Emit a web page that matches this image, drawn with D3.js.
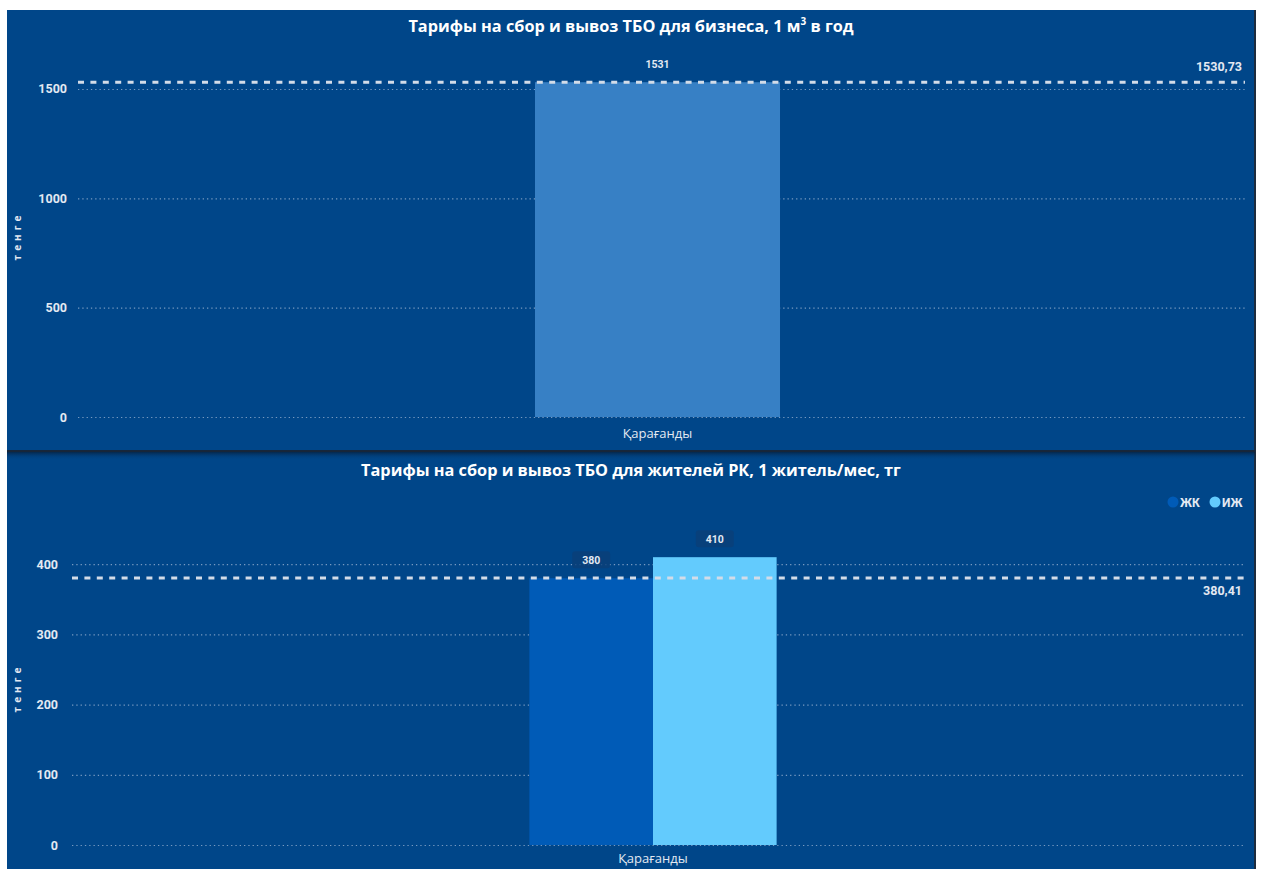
<!DOCTYPE html>
<html lang="ru">
<head>
<meta charset="UTF-8">
<title>Тарифы ТБО</title>
<style>
  * { margin: 0; padding: 0; box-sizing: border-box; }
  body { background: #fff; width: 1263px; height: 869px; overflow: hidden; font-family: 'Open Sans', 'DejaVu Sans', sans-serif; }
  svg { display: block; }
</style>
</head>
<body>
<svg width="1263" height="869"></svg>
<script src="https://cdn.jsdelivr.net/npm/d3@7/dist/d3.min.js"></script>
<script>
// ---- data ----
const regions = ['Қарағанды'];
const businessValues = [1531];
const businessAvg = 1530.73;
const businessTicks = [0, 500, 1000, 1500];

const residentSeries = ['ЖК', 'ИЖ'];
const residentValues = [380, 410];
const residentAvg = 380.41;
const residentTicks = [0, 100, 200, 300, 400];

const seriesColors = ['#005bb7', '#63cbfd'];
const panelColor = '#004689';
const textColor = '#e3e9f2';
const comma = v => d3.format('.2f')(v).replace('.', ',');

const svg = d3.select('svg');

// Panels
svg.append('rect').attr('x', 7).attr('y', 10).attr('width', 1248).attr('height', 859).attr('fill', panelColor);
svg.append('rect').attr('x', 1254).attr('y', 10).attr('width', 2).attr('height', 859).attr('fill', '#1d2b3d');

const defs = svg.append('defs');
const shade = defs.append('linearGradient').attr('id', 'shade').attr('x1', 0).attr('y1', 0).attr('x2', 0).attr('y2', 1);
shade.append('stop').attr('offset', '0%').attr('stop-color', '#07203d').attr('stop-opacity', 0.8);
shade.append('stop').attr('offset', '100%').attr('stop-color', panelColor).attr('stop-opacity', 0);
svg.append('rect').attr('x', 7).attr('y', 450).attr('width', 1248).attr('height', 2).attr('fill', '#17263a');
svg.append('rect').attr('x', 7).attr('y', 452).attr('width', 1248).attr('height', 8).attr('fill', 'url(#shade)');

function drawChart(cfg) {
  const g = svg.append('g');
  const y = d3.scaleLinear().domain(cfg.domain).range(cfg.yRange);
  const x = d3.scaleBand().domain(regions).range(cfg.xRange).paddingInner(0).paddingOuter(cfg.outer);

  // title
  const title = g.append('text')
    .attr('x', 631).attr('y', cfg.titleY)
    .attr('text-anchor', 'middle')
    .attr('fill', '#fff').attr('font-size', 16.3).attr('font-weight', 700)
    .text(cfg.title);
  if (cfg.titleSup) {
    title.append('tspan').attr('dy', -7).attr('font-size', 10).text(cfg.titleSup);
    title.append('tspan').attr('dy', 7).text(cfg.titleTail);
  }

  // grid
  const yAxis = d3.axisLeft(y).tickValues(cfg.ticks).tickFormat(d3.format('d'))
    .tickSize(-(cfg.gridX[1] - cfg.gridX[0])).tickPadding(cfg.gridX[0] - cfg.labelX);
  const ax = g.append('g').attr('transform', `translate(${cfg.gridX[0]},0)`).call(yAxis);
  ax.select('.domain').remove();
  ax.selectAll('.tick line')
    .attr('stroke', '#a9bdd8').attr('stroke-opacity', 0.7)
    .attr('stroke-width', 1.2).attr('stroke-dasharray', '1.3 3');
  ax.selectAll('.tick text')
    .attr('fill', textColor).attr('font-size', 12.5).attr('font-weight', 700)
    .attr('font-family', 'Roboto, sans-serif');

  // axis title
  g.append('text')
    .attr('transform', `translate(21,${cfg.axisTitleY}) rotate(-90)`)
    .attr('text-anchor', 'middle')
    .attr('fill', textColor).attr('font-size', 10).attr('font-weight', 700)
    .attr('letter-spacing', 4)
    .text('тенге');

  // bars
  const sub = d3.scaleBand().domain(cfg.series).range([0, x.bandwidth()]);
  const bars = g.append('g');
  cfg.values.forEach((v, i) => {
    const x0 = x(regions[0]) + sub(cfg.series[i]);
    bars.append('rect')
      .attr('x', x0).attr('y', y(v))
      .attr('width', sub.bandwidth()).attr('height', y(0) - y(v))
      .attr('fill', cfg.colors[i]);
    const cx = x0 + sub.bandwidth() / 2;
    if (cfg.labelBoxes) {
      bars.append('rect')
        .attr('x', cx - 19).attr('y', y(v) - 27)
        .attr('width', 38).attr('height', 17).attr('rx', 3)
        .attr('fill', '#0a3f78').attr('fill-opacity', 0.8);
    }
    bars.append('text')
      .attr('x', cx).attr('y', y(v) - 14)
      .attr('text-anchor', 'middle')
      .attr('fill', textColor).attr('font-size', 10.5).attr('font-weight', 700)
      .attr('font-family', 'Roboto, sans-serif')
      .text(v);
  });

  // average line
  g.append('line')
    .attr('x1', cfg.gridX[0]).attr('x2', cfg.gridX[1])
    .attr('y1', y(cfg.avg)).attr('y2', y(cfg.avg))
    .attr('stroke', '#d3dce8').attr('stroke-width', 3)
    .attr('stroke-dasharray', '6 6.4');
  g.append('text')
    .attr('x', 1242).attr('y', y(cfg.avg) + cfg.avgLabelDy)
    .attr('text-anchor', 'end')
    .attr('fill', textColor).attr('font-size', 12.5).attr('font-weight', 700)
    .attr('font-family', 'Roboto, sans-serif')
    .text(comma(cfg.avg));

  // category label
  g.append('text')
    .attr('x', x(regions[0]) + x.bandwidth() / 2).attr('y', cfg.catY)
    .attr('text-anchor', 'middle')
    .attr('fill', textColor).attr('font-size', 13)
    .text(regions[0]);

  return { x, y };
}

// Top chart: business
drawChart({
  title: 'Тарифы на сбор и вывоз ТБО для бизнеса, 1 м',
  titleSup: '3',
  titleTail: ' в год',
  titleY: 32,
  domain: [0, 1600],
  yRange: [417, 417 - 1600 * 0.21867],
  xRange: [78, 1237],
  outer: 1.865,
  gridX: [78, 1245],
  labelX: 67,
  ticks: businessTicks,
  axisTitleY: 236,
  series: ['Тариф'],
  values: businessValues,
  colors: ['#3780c5'],
  labelBoxes: false,
  avg: businessAvg,
  avgLabelDy: -11,
  catY: 438
});

// Bottom chart: residents
drawChart({
  title: 'Тарифы на сбор и вывоз ТБО для жителей РК, 1 житель/мес, тг',
  titleY: 476,
  domain: [0, 440],
  yRange: [845, 845 - 440 * 0.702],
  xRange: [72, 1234],
  outer: 1.85,
  gridX: [72, 1245],
  labelX: 58,
  ticks: residentTicks,
  axisTitleY: 688,
  series: residentSeries,
  values: residentValues,
  colors: seriesColors,
  labelBoxes: true,
  avg: residentAvg,
  avgLabelDy: 17,
  catY: 863
});

// Legend
const legend = svg.append('g').attr('transform', 'translate(1243,502)');
const legendItems = [
  { name: residentSeries[0], color: seriesColors[0], x: -70 },
  { name: residentSeries[1], color: seriesColors[1], x: -28 }
];
legendItems.forEach(d => {
  legend.append('circle').attr('cx', d.x).attr('cy', 0).attr('r', 5.5).attr('fill', d.color);
  legend.append('text')
    .attr('x', d.x + 7).attr('y', 4.5)
    .attr('fill', textColor).attr('font-size', 12).attr('font-weight', 700)
    .attr('font-family', 'Roboto, sans-serif')
    .text(d.name);
});
</script>
</body>
</html>
